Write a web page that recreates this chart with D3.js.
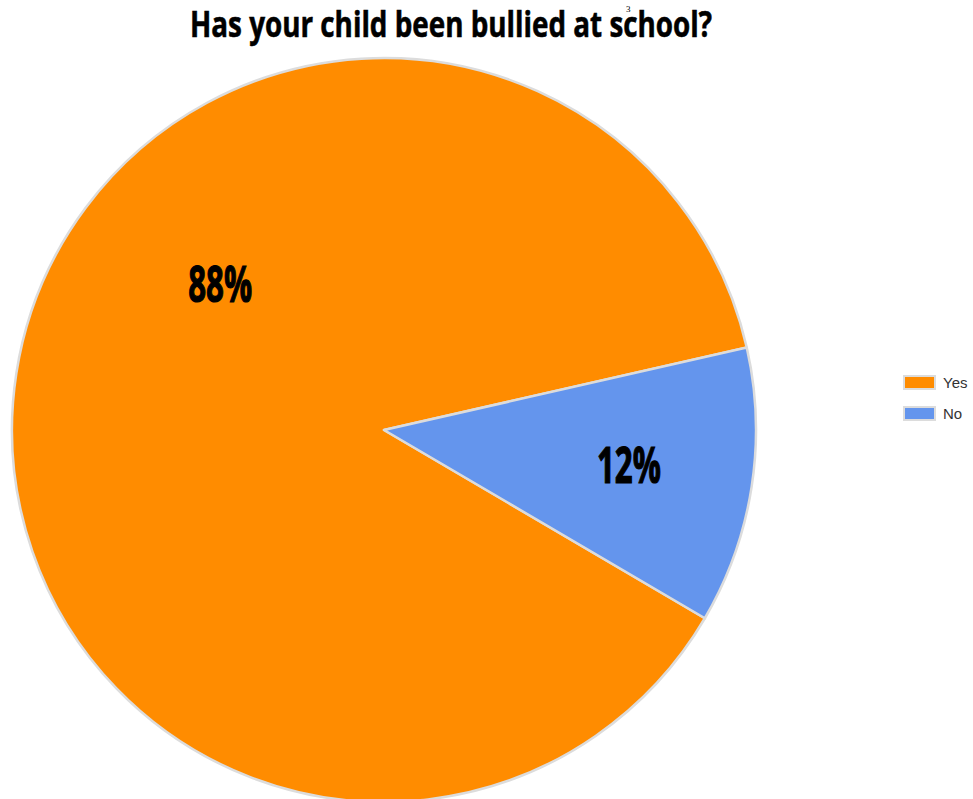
<!DOCTYPE html>
<html>
<head>
<meta charset="utf-8">
<script src="https://cdn.jsdelivr.net/npm/d3@7"></script>
<style>
body { margin: 0; background: #fff; }
svg { display: block; }
</style>
</head>
<body>
<div id="graf"></div>
<script>
// dades
const categories = ['Yes', 'No'];
const valors = [88, 12];
const etiquetes = ['88%', '12%'];
const colors = ['#FF8C00', '#6495ED'];

const Amplada = 973, Alçada = 799;
const centre = [384, 430];
const radi = 372;

const svg = d3.select('#graf')
	.append('svg')
		.attr('width', Amplada)
		.attr('height', Alçada);

// títol
svg.append('text')
	.attr('x', 451)
	.attr('y', 37)
	.attr('text-anchor', 'middle')
	.attr('font-family', 'Open Sans')
	.attr('font-weight', 'bold')
	.attr('font-size', 36)
	.attr('stroke', '#000')
	.attr('stroke-width', 0.6)
	.attr('textLength', 522)
	.attr('lengthAdjust', 'spacingAndGlyphs')
	.text('Has your child been bullied at school?');
// el 3 petit que surt damunt la "c"
svg.append('text')
	.attr('x', 626)
	.attr('y', 12)
	.attr('font-family', 'Liberation Serif')
	.attr('font-size', 9)
	.text('3');

const pie = d3.pie()
	.sort(null)
	.startAngle(120.4 * Math.PI / 180)
	.endAngle(120.4 * Math.PI / 180 + 2 * Math.PI);
const arcs = pie(valors);

const arc = d3.arc().innerRadius(0).outerRadius(radi);

const g = svg.append('g')
	.attr('transform', `translate(${centre[0]},${centre[1]})`);

g.selectAll('path')
	.data(arcs)
	.join('path')
		.attr('d', arc)
		.attr('fill', (d, i) => colors[i])
		.attr('stroke', '#dcdcdc')
		.attr('stroke-width', 2.5)
		.attr('stroke-linejoin', 'round');

// posicions de les etiquetes (angle, fracció del radi)
const posEtiq = [[311.7, 0.59], [98.1, 0.665]];
g.selectAll('text.etiq')
	.data(arcs)
	.join('text')
		.attr('class', 'etiq')
		.attr('x', (d, i) => Math.sin(posEtiq[i][0] * Math.PI / 180) * radi * posEtiq[i][1])
		.attr('y', (d, i) => -Math.cos(posEtiq[i][0] * Math.PI / 180) * radi * posEtiq[i][1])
		.attr('dy', '0.36em')
		.attr('text-anchor', 'middle')
		.attr('font-family', 'Open Sans')
		.attr('font-weight', 'bold')
		.attr('font-size', 50)
		.attr('stroke', '#000')
		.attr('stroke-width', 1.2)
		.attr('textLength', 64)
		.attr('lengthAdjust', 'spacingAndGlyphs')
		.text((d, i) => etiquetes[i]);

// llegenda
const lleg = svg.append('g')
	.attr('transform', 'translate(904,376)');
const item = lleg.selectAll('g')
	.data(categories)
	.join('g')
		.attr('transform', (d, i) => `translate(0,${i * 31})`);
item.append('rect')
	.attr('width', 31)
	.attr('height', 13)
	.attr('fill', (d, i) => colors[i])
	.attr('stroke', '#dcdcdc')
	.attr('stroke-width', 2);
item.append('text')
	.attr('x', 39)
	.attr('y', 12)
	.attr('font-family', 'Liberation Sans')
	.attr('font-size', 15)
	.attr('fill', '#333')
	.text(d => d);
</script>
</body>
</html>
